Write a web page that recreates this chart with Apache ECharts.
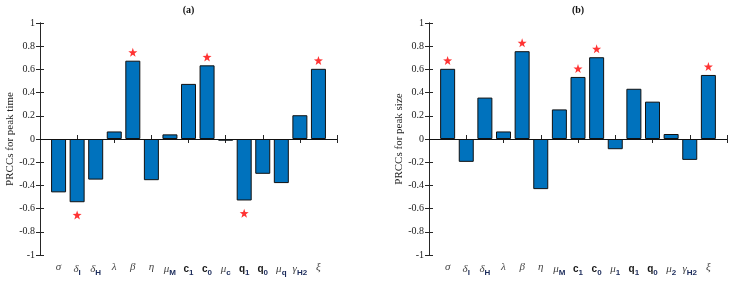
<!DOCTYPE html>
<html><head><meta charset="utf-8">
<script src="https://cdn.jsdelivr.net/npm/echarts@6/dist/echarts.min.js"></script>
<style>html,body{margin:0;padding:0;background:#fff}#c{width:735px;height:281px}</style>
</head><body><div id="c"></div>
<script>
// Panel (a): PRCCs for peak time
var labelsA = ['{g|σ}','{g|δ}{s|I}','{g|δ}{s|H}','{g|λ}','{g|β}','{g|η}','{g|μ}{s|M}','{b|c}{s|1}','{b|c}{s|0}','{g|μ}{s|c}','{b|q}{s|1}','{b|q}{s|0}','{g|μ}{s|q}','{g|γ}{s|H2}','{g|ξ}'];
var valuesA = [-0.46,-0.545,-0.35,0.065,0.675,-0.355,0.04,0.475,0.635,-0.015,-0.53,-0.30,-0.38,0.205,0.605];
var starsA = [2,5,9,11,15]; // 1-based category positions with significance star

// Panel (b): PRCCs for peak size
var labelsB = ['{g|σ}','{g|δ}{s|I}','{g|δ}{s|H}','{g|λ}','{g|β}','{g|η}','{g|μ}{s|M}','{b|c}{s|1}','{b|c}{s|0}','{g|μ}{s|1}','{b|q}{s|1}','{b|q}{s|0}','{g|μ}{s|2}','{g|γ}{s|H2}','{g|ξ}'];
var valuesB = [0.605,-0.197,0.357,0.065,0.757,-0.432,0.255,0.535,0.705,-0.088,0.433,0.322,0.043,-0.18,0.552];
var starsB = [1,5,8,9,15];

var titles = ['(a)','(b)'];
var yNames = ['PRCCs for peak time','PRCCs for peak size'];

var axisColor = '#262626';
var serif = '"Liberation Serif", "DejaVu Serif", serif';
var sans = '"Liberation Sans", Arial, sans-serif';
var richStyles = {
  g: {fontFamily: serif, fontStyle: 'italic', fontSize: 11, color: '#444'},
  b: {fontFamily: sans, fontWeight: 'bold', fontSize: 10, color: '#1a1a1a'},
  s: {fontFamily: sans, fontWeight: 'bold', fontSize: 8, color: '#1a2a5a', padding: [7,0,0,0]}
};
var starPath = 'path://M10 0 L12.351 6.764 L19.511 6.910 L13.804 11.236 L15.878 18.090 L10 14 L4.122 18.090 L6.196 11.236 L0.489 6.910 L7.649 6.764 Z';

var grids = [
  {left: 40, top: 20, width: 297, height: 235},
  {left: 429, top: 20, width: 298, height: 235}
];
var xAxes = [], yAxes = [], series = [];
[ [labelsA, valuesA, starsA], [labelsB, valuesB, starsB] ].forEach(function (p, gi) {
  var labels = p[0], vals = p[1], stars = p[2];
  var base = gi * 3;
  xAxes.push({
    gridIndex: gi, type: 'value', min: 0, max: 16, interval: 2, position: 'bottom',
    axisLine: {show: true, lineStyle: {color: axisColor, width: 1}},
    axisTick: {show: true, inside: true, length: 4, lineStyle: {color: axisColor}},
    axisLabel: {show: false}, splitLine: {show: false}
  });
  xAxes.push({
    gridIndex: gi, type: 'value', min: 0, max: 16, interval: 2, position: 'top',
    name: titles[gi], nameLocation: 'middle', nameGap: 8,
    nameTextStyle: {fontFamily: serif, fontWeight: 'bold', fontSize: 10, color: '#111'},
    axisLine: {show: true, lineStyle: {color: axisColor, width: 1}},
    axisTick: {show: true, inside: true, length: 4, lineStyle: {color: axisColor}},
    axisLabel: {show: false}, splitLine: {show: false}
  });
  xAxes.push({
    gridIndex: gi, type: 'value', min: 0, max: 16, interval: 1, position: 'bottom',
    axisLine: {show: false}, axisTick: {show: false}, splitLine: {show: false},
    axisLabel: {
      show: true, margin: 7, showMinLabel: true, showMaxLabel: true,
      formatter: function (v) { var i = Math.round(v); return (i >= 1 && i <= labels.length) ? labels[i - 1] : ''; },
      rich: richStyles
    }
  });
  yAxes.push({
    gridIndex: gi, type: 'value', min: -1, max: 1, interval: 0.2, position: 'left',
    name: yNames[gi], nameLocation: 'middle', nameRotate: 90, nameGap: 24,
    nameTextStyle: {fontFamily: serif, fontSize: 11, color: '#222'},
    axisLine: {show: true, lineStyle: {color: axisColor, width: 1}},
    axisTick: {show: true, inside: true, length: 4, lineStyle: {color: axisColor}},
    axisLabel: {show: true, margin: 5, fontFamily: serif, fontSize: 10, color: '#222',
      formatter: function (v) { return String(Math.round(v * 10) / 10); }},
    splitLine: {show: false}
  });
  yAxes.push({
    gridIndex: gi, type: 'value', min: -1, max: 1, interval: 0.2, position: 'right',
    axisLine: {show: true, lineStyle: {color: axisColor, width: 1}},
    axisTick: {show: true, inside: true, length: 4, lineStyle: {color: axisColor}},
    axisLabel: {show: false}, splitLine: {show: false}
  });
  series.push({
    type: 'bar', xAxisIndex: base + 2, yAxisIndex: gi * 2, barWidth: 15,
    data: vals.map(function (v, i) { return [i + 1, v]; }),
    itemStyle: {color: '#0072BD', borderColor: '#111', borderWidth: 1},
    markLine: {silent: true, symbol: 'none', label: {show: false},
      lineStyle: {color: '#111', width: 1, type: 'solid'}, data: [{yAxis: 0}]},
    animation: false
  });
  series.push({
    type: 'scatter', xAxisIndex: base + 2, yAxisIndex: gi * 2,
    symbol: starPath, symbolSize: [9, 9],
    itemStyle: {color: '#ff0000'},
    data: stars.map(function (k) { var v = vals[k - 1]; return [k, v >= 0 ? v + 0.072 : v - 0.11]; }),
    animation: false
  });
});

var chart = echarts.init(document.getElementById('c'), null, {renderer: 'canvas'});
chart.setOption({
  animation: false,
  grid: grids,
  xAxis: xAxes,
  yAxis: yAxes,
  series: series
});
</script></body></html>
